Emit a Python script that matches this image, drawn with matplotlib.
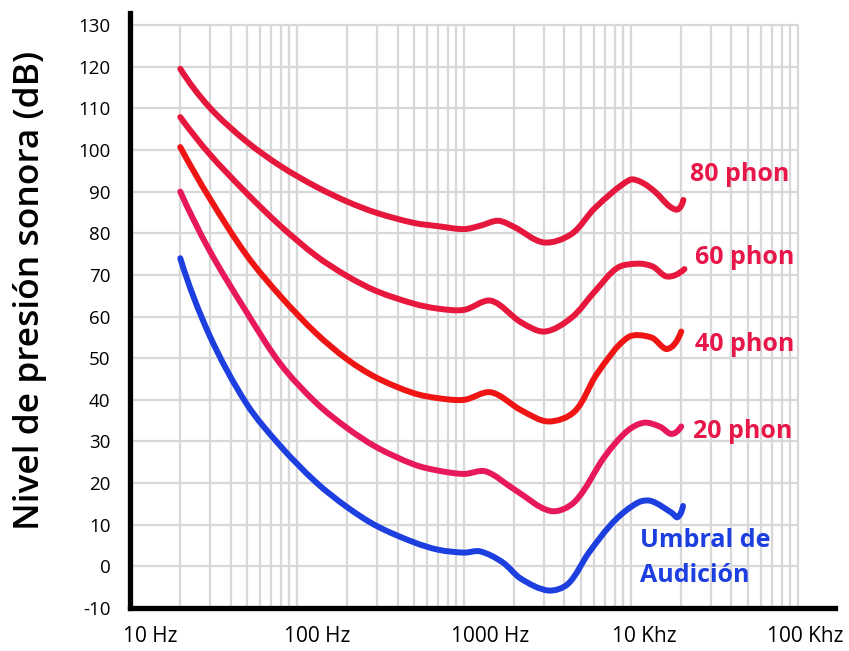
import numpy as np
import matplotlib
matplotlib.use('Agg')
import matplotlib.pyplot as plt
from matplotlib.path import Path
from matplotlib.patches import PathPatch

plt.rcParams['font.family'] = ['Open Sans', 'DejaVu Sans']

# curves: (frequency Hz, level dB)
low_f = [20, 30, 50, 80, 130, 200, 300, 500, 700]

umbral_f = low_f + [1000, 1250, 1700, 2200, 3200, 4200, 5600, 8000, 11000, 13200,
                    17500, 19000, 20500]
umbral_db = [74, 55.4, 39, 28.8, 20.2, 14.2, 9.7, 5.8, 4.0,
             3.3, 3.6, 1.0, -3, -5.8, -4.2, 3.3, 11, 15.3, 15.7, 12.9, 11.8, 14.5]

phon20_f = low_f + [1000, 1350, 2000, 3300, 4600, 7000, 9500, 12000, 15000, 17500, 20000]
phon20_db = [90, 75.8, 61, 48.5, 39.3, 33.2, 28.6, 24.5, 23,
             22.2, 22.8, 18.5, 13.3, 15.5, 26.5, 32.5, 34.5, 33.5, 31.8, 33.6]

phon40_f = low_f + [1000, 1450, 2200, 3200, 4600, 6300, 9600, 13200, 16500, 20000]
phon40_db = [100.7, 88.4, 74.7, 64.8, 56, 49.7, 45.3, 41.6, 40.4,
             40.0, 41.8, 37.5, 34.8, 37.2, 46.4, 55, 55, 52.2, 56.4]

phon60_f = low_f + [1000, 1450, 2200, 3050, 4400, 6100, 8300, 11000, 13500, 16500, 20900]
phon60_db = [107.9, 99.0, 89.6, 81.7, 74.6, 69.7, 66.1, 63.1, 61.9,
             61.6, 63.8, 58.6, 56.4, 59.7, 66.1, 71.7, 72.7, 72, 69.6, 71.4]

phon80_f = low_f + [1000, 1250, 1600, 2000, 3000, 4400, 6100, 9800, 11500, 13900,
                    17000, 19000, 20600]
phon80_db = [119.5, 110.2, 102, 96.1, 91.2, 87.6, 84.9, 82.5, 81.7,
             81.0, 81.8, 83, 81.5, 77.8, 79.8, 86.1, 92.8, 92.3, 90, 86.5, 85.7, 88]

curves = [
    (phon80_f, phon80_db, '#e6173d'),
    (phon60_f, phon60_db, '#e8173d'),
    (phon40_f, phon40_db, '#ef1515'),
    (phon20_f, phon20_db, '#e8195b'),
    (umbral_f, umbral_db, '#1d3fe0'),
]

labels = ['80 phon', '60 phon', '40 phon', '20 phon']
label_f = [22600, 24200, 24200, 23600]
label_db = [94, 74.1, 53.2, 32.3]

y_ticks = list(range(-10, 131, 10))
x_tick_pos = [13.2, 133, 1426, 12100, 110000]
x_tick_labels = ['10 Hz', '100 Hz', '1000 Hz', '10 Khz', '100 Khz']


def smooth_path(f, db):
    # bezier through the read points (chord-length catmull-rom in log f)
    x = np.log10(f)
    y = np.asarray(db, float)
    d = np.hypot(np.diff(x) * 167, np.diff(y) * 4.16)
    t = np.concatenate([[0], np.cumsum(d)])
    P = np.column_stack([x, y])
    m = np.zeros_like(P)
    m[1:-1] = (P[2:] - P[:-2]) / (t[2:] - t[:-2])[:, None]
    m[0] = 2 * (P[1] - P[0]) / (t[1] - t[0]) - m[1]
    m[-1] = 2 * (P[-1] - P[-2]) / (t[-1] - t[-2]) - m[-2]
    verts = [P[0]]
    codes = [Path.MOVETO]
    for i in range(len(P) - 1):
        h = t[i + 1] - t[i]
        verts += [P[i] + m[i] * h / 3, P[i + 1] - m[i + 1] * h / 3, P[i + 1]]
        codes += [Path.CURVE4] * 3
    verts = np.array(verts)
    verts[:, 0] = 10 ** verts[:, 0]
    return Path(verts, codes)


fig = plt.figure(figsize=(8.49, 6.51), dpi=100)
ax = fig.add_axes([130 / 849, 43 / 651, 705 / 849, 595 / 651])
ax.set_xscale('log')
ax.set_xlim(10, 10 ** 5.222)
ax.set_ylim(-10, 132.9)

# grid only goes to 100 kHz / 130 dB
grid_c = '#d8d8d8'
vgrid = [m * 10 ** d for d in range(1, 5) for m in range(1, 10)] + [100000]
ax.vlines(vgrid[1:], -10, 130, color=grid_c, lw=1.6, zorder=1)
ax.hlines(y_ticks[1:], 10, 100000, color=grid_c, lw=1.6, zorder=1)

for f, db, c in curves:
    ax.add_patch(PathPatch(smooth_path(f, db), fill=False, edgecolor=c, lw=4.3,
                           capstyle='round', joinstyle='round', zorder=3))

for t, f, db in zip(labels, label_f, label_db):
    ax.text(f, db, t, color='#e8174a', fontsize=18, fontweight='bold', ha='left', va='center')
ax.text(11300, 6.1, 'Umbral de', color='#1d3fe0', fontsize=18, fontweight='bold', ha='left', va='center')
ax.text(11300, -2.1, 'Audición', color='#1d3fe0', fontsize=18, fontweight='bold', ha='left', va='center')

ax.set_yticks(y_ticks)
ax.set_yticklabels([str(v) for v in y_ticks], fontsize=13.5)
ax.set_xticks(x_tick_pos)
ax.set_xticklabels(x_tick_labels, fontsize=15)
ax.xaxis.set_minor_locator(matplotlib.ticker.NullLocator())
ax.tick_params(axis='both', length=0)
ax.tick_params(axis='y', pad=14)
ax.tick_params(axis='x', pad=13)

for s in ['top', 'right']:
    ax.spines[s].set_visible(False)
for s in ['left', 'bottom']:
    ax.spines[s].set_linewidth(3.8)
    ax.spines[s].set_color('black')

fig.text(30 / 849, 1 - 290 / 651, 'Nivel de presión sonora (dB)', rotation=90,
         fontsize=25.5, fontweight='semibold', ha='center', va='center')

fig.savefig('out.png', dpi=100)
